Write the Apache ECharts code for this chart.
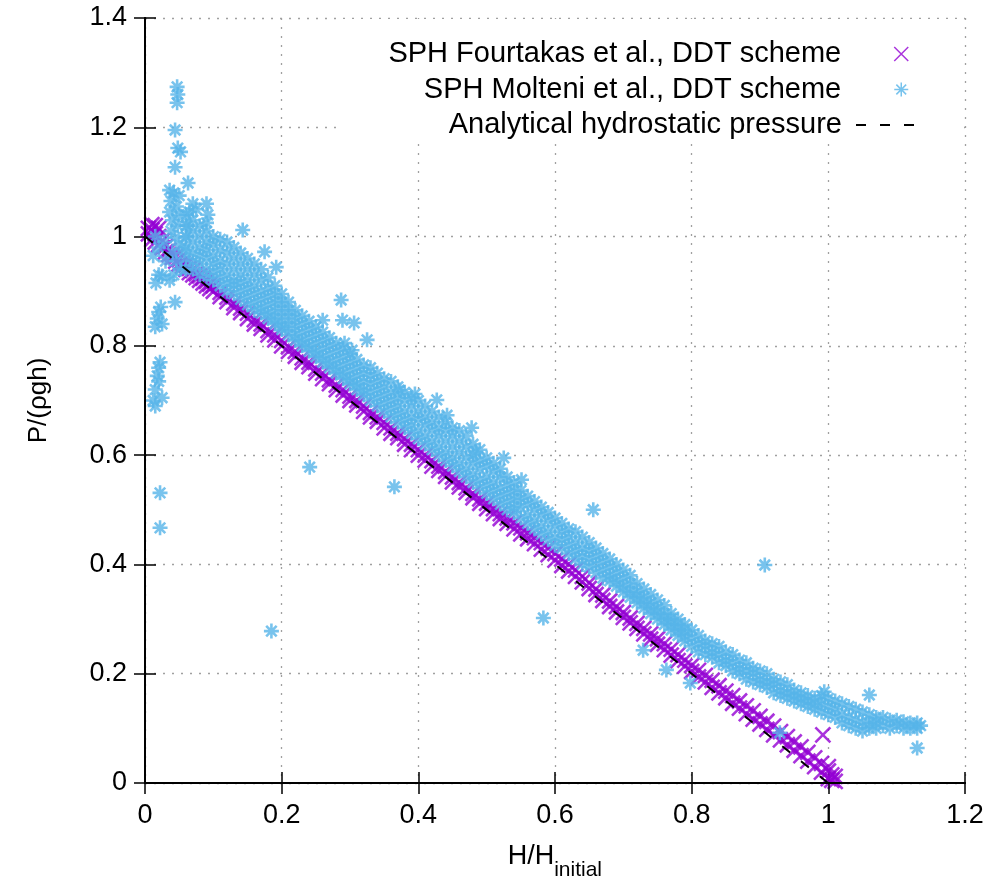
<!DOCTYPE html>
<html><head><meta charset="utf-8">
<script src="https://cdn.jsdelivr.net/npm/echarts@6/dist/echarts.min.js"></script>
<style>html,body{margin:0;padding:0;background:#fff}#c{width:994px;height:891px}</style>
</head><body><div id="c"></div>
<script>
// ---- axes ----
const xRange = [0, 1.2];
const xStep = 0.2;
const yRange = [0, 1.4];
const yStep = 0.2;
const xAxisTitle = ['H/H', 'initial'];
const yAxisTitle = 'P/(ρgh)';
const seriesNames = ['SPH Fourtakas et al., DDT scheme', 'SPH Molteni et al., DDT scheme', 'Analytical hydrostatic pressure'];

// ---- SPH Fourtakas (purple x) : [x, [y values at that x]] ----
const fourtakasCols = [
[0.005,[1.005,1.015]],[0.01,[0.995,1.012,1.022]],[0.015,[0.99,1.005,1.02]],[0.02,[0.985,1.0,1.015]],
[0.025,[0.98,0.992]],[0.03,[0.972,0.982]],[0.035,[0.967,0.975]],[0.04,[0.962,0.968]],[0.045,[0.955,0.963]],
[0.05,[0.95,0.958]],[0.055,[0.946,0.952]],[0.06,[0.94,0.948]],[0.065,[0.934,0.942]],[0.07,[0.93,0.938]],
[0.075,[0.925,0.932]],[0.08,[0.92,0.928]],[0.085,[0.915,0.924]],[0.09,[0.91,0.918]],[0.095,[0.905,0.913]],
[0.10,[0.9,0.91]],[0.11,[0.89,0.898]],[0.12,[0.881,0.889]],[0.13,[0.87,0.878]],[0.14,[0.861,0.869]],
[0.15,[0.85,0.86]],[0.16,[0.84,0.848]],[0.17,[0.832,0.84]],[0.18,[0.82,0.828]],[0.19,[0.811,0.82]],
[0.20,[0.8,0.81]],[0.21,[0.79,0.798]],[0.22,[0.781,0.79]],[0.23,[0.77,0.778]],[0.24,[0.762,0.77]],
[0.25,[0.75,0.758]],[0.26,[0.74,0.75]],[0.27,[0.731,0.738]],[0.28,[0.72,0.728]],[0.29,[0.71,0.72]],
[0.30,[0.7,0.708]],[0.31,[0.692,0.7]],[0.32,[0.68,0.69]],[0.33,[0.67,0.678]],[0.34,[0.662,0.67]],
[0.35,[0.65,0.66]],[0.36,[0.64,0.65]],[0.37,[0.632,0.64]],[0.38,[0.62,0.63]],[0.39,[0.61,0.62]],
[0.40,[0.6,0.61]],[0.41,[0.591,0.6]],[0.42,[0.58,0.59]],[0.43,[0.572,0.58]],[0.44,[0.561,0.57]],
[0.45,[0.551,0.56]],[0.46,[0.542,0.55]],[0.47,[0.532,0.54]],[0.48,[0.522,0.53]],[0.49,[0.512,0.52]],
[0.50,[0.502,0.512]],[0.51,[0.493,0.502]],[0.52,[0.484,0.493]],[0.53,[0.475,0.485]],[0.54,[0.465,0.476]],
[0.55,[0.456,0.467]],[0.56,[0.447,0.458]],[0.57,[0.438,0.449]],[0.58,[0.428,0.44]],[0.59,[0.418,0.43]],
[0.60,[0.408,0.42]],[0.61,[0.398,0.41]],[0.62,[0.388,0.4]],[0.63,[0.378,0.39]],[0.64,[0.368,0.378]],
[0.65,[0.356,0.366]],[0.66,[0.345,0.355]],[0.67,[0.334,0.344]],[0.68,[0.323,0.333]],[0.69,[0.313,0.323]],
[0.70,[0.303,0.312]],[0.71,[0.293,0.302]],[0.72,[0.283,0.292]],[0.73,[0.273,0.283]],[0.74,[0.263,0.273]],
[0.75,[0.254,0.264]],[0.76,[0.244,0.255]],[0.77,[0.234,0.245]],[0.78,[0.224,0.235]],[0.79,[0.214,0.225]],
[0.80,[0.204,0.215]],[0.81,[0.194,0.206]],[0.82,[0.185,0.197]],[0.83,[0.175,0.188]],[0.84,[0.165,0.178]],
[0.85,[0.156,0.168]],[0.86,[0.146,0.16]],[0.87,[0.137,0.15]],[0.88,[0.127,0.141]],[0.89,[0.117,0.132]],
[0.90,[0.108,0.122]],[0.91,[0.098,0.113]],[0.92,[0.088,0.104]],[0.93,[0.079,0.094]],[0.94,[0.07,0.085]],
[0.95,[0.06,0.075]],[0.96,[0.05,0.066]],[0.97,[0.04,0.056]],[0.98,[0.03,0.046]],[0.99,[0.02,0.036]],
[1.0,[0.008,0.022,0.03]],[1.005,[0.005,0.015]],[1.01,[0.003,0.012]],[0.992,[0.088]]
];

// ---- SPH Molteni (blue *) : main band [x, [y values]] ----
const molteniCols = [
[0.06,[1.04,1.02,1.0,0.98,0.96,0.94]],[0.07,[1.03,1.01,0.99,0.97,0.955,0.94]],[0.08,[1.02,1.0,0.98,0.965,0.95,0.93]],
[0.09,[1.01,0.99,0.975,0.96,0.94,0.925]],[0.10,[1.0,0.985,0.965,0.95,0.935,0.92]],[0.11,[0.995,0.975,0.955,0.94,0.925,0.91]],
[0.12,[0.99,0.97,0.95,0.93,0.915,0.9]],[0.13,[0.98,0.96,0.94,0.92,0.91,0.895]],[0.14,[0.97,0.95,0.93,0.915,0.9,0.885]],
[0.15,[0.96,0.94,0.92,0.905,0.89,0.875]],[0.16,[0.95,0.93,0.91,0.895,0.88,0.865]],[0.17,[0.94,0.92,0.9,0.885,0.87,0.86]],
[0.18,[0.925,0.905,0.89,0.875,0.86,0.85]],[0.19,[0.91,0.895,0.88,0.865,0.85,0.84]],[0.20,[0.895,0.88,0.865,0.85,0.835,0.83]],
[0.21,[0.88,0.865,0.85,0.835,0.82]],[0.22,[0.865,0.85,0.835,0.82,0.81]],[0.23,[0.855,0.84,0.825,0.81,0.8]],
[0.24,[0.845,0.83,0.815,0.8,0.79]],[0.25,[0.835,0.82,0.805,0.79,0.78]],[0.26,[0.825,0.81,0.795,0.78,0.77]],
[0.27,[0.815,0.8,0.785,0.77,0.76]],[0.28,[0.805,0.79,0.775,0.76,0.75]],[0.29,[0.795,0.78,0.765,0.75,0.74]],
[0.30,[0.785,0.77,0.755,0.74,0.73]],[0.31,[0.775,0.76,0.745,0.73,0.72]],[0.32,[0.765,0.75,0.735,0.72,0.71]],
[0.33,[0.76,0.745,0.73,0.715,0.7]],[0.34,[0.75,0.735,0.72,0.705,0.69]],[0.35,[0.74,0.725,0.71,0.695,0.68]],
[0.36,[0.735,0.715,0.7,0.685,0.67]],[0.37,[0.725,0.705,0.69,0.675,0.66]],[0.38,[0.715,0.7,0.68,0.665,0.65]],
[0.39,[0.705,0.69,0.67,0.655,0.64]],[0.40,[0.7,0.68,0.665,0.645,0.63]],[0.41,[0.69,0.67,0.655,0.635,0.62]],
[0.42,[0.68,0.66,0.645,0.625,0.61]],[0.43,[0.67,0.65,0.635,0.615,0.6]],[0.44,[0.66,0.645,0.625,0.605,0.59]],
[0.45,[0.65,0.635,0.615,0.595,0.58]],[0.46,[0.645,0.625,0.605,0.585,0.57]],[0.47,[0.635,0.615,0.595,0.575,0.56]],
[0.48,[0.62,0.6,0.585,0.565,0.55]],[0.49,[0.61,0.59,0.575,0.555,0.54]],[0.50,[0.595,0.58,0.56,0.545,0.53]],
[0.51,[0.585,0.57,0.55,0.535,0.52]],[0.52,[0.575,0.56,0.54,0.525,0.51]],[0.53,[0.56,0.545,0.53,0.515,0.5]],
[0.54,[0.55,0.535,0.52,0.505,0.495]],[0.55,[0.535,0.52,0.505,0.485]],[0.56,[0.525,0.51,0.49,0.475]],
[0.57,[0.515,0.5,0.48,0.465]],[0.58,[0.505,0.49,0.47,0.455]],[0.59,[0.495,0.48,0.46,0.445]],
[0.60,[0.485,0.47,0.45,0.435]],[0.61,[0.475,0.46,0.445,0.43]],[0.62,[0.465,0.45,0.435,0.42]],
[0.63,[0.46,0.44,0.425,0.41]],[0.64,[0.45,0.43,0.415,0.4]],[0.65,[0.44,0.425,0.41,0.395]],
[0.66,[0.43,0.415,0.4,0.385]],[0.67,[0.42,0.405,0.39,0.375]],[0.68,[0.41,0.395,0.38,0.37]],
[0.69,[0.4,0.385,0.37,0.36]],[0.70,[0.39,0.375,0.36,0.35]],[0.71,[0.38,0.365,0.35,0.34]],
[0.72,[0.365,0.35,0.34,0.33]],[0.73,[0.355,0.34,0.33,0.32]],[0.74,[0.345,0.33,0.32,0.31]],
[0.75,[0.335,0.32,0.31,0.3]],[0.76,[0.325,0.31,0.3,0.29]],[0.77,[0.31,0.3,0.29,0.28]],
[0.78,[0.3,0.29,0.28,0.27]],[0.79,[0.29,0.28,0.27,0.26]],[0.80,[0.28,0.265,0.25]],
[0.81,[0.27,0.255,0.24]],[0.82,[0.26,0.25,0.235]],[0.83,[0.255,0.24,0.23]],[0.84,[0.25,0.235,0.22]],
[0.85,[0.24,0.225,0.215]],[0.86,[0.235,0.22,0.205]],[0.87,[0.225,0.21,0.2]],[0.88,[0.22,0.205,0.19]],
[0.89,[0.21,0.2,0.185]],[0.90,[0.205,0.19,0.18]],[0.91,[0.2,0.185,0.175]],[0.92,[0.19,0.18,0.165]],
[0.93,[0.185,0.17,0.16]],[0.94,[0.18,0.165,0.155]],[0.95,[0.17,0.16,0.15]],[0.96,[0.165,0.155,0.145]],
[0.97,[0.16,0.15,0.14]],[0.98,[0.155,0.145,0.135]],[0.99,[0.16,0.145,0.13]],[1.0,[0.155,0.14,0.125]],
[1.01,[0.15,0.135,0.12]],[1.02,[0.145,0.125,0.11]],[1.03,[0.14,0.12,0.105]],[1.04,[0.135,0.115,0.1]],
[1.05,[0.13,0.11,0.095]],[1.06,[0.125,0.11,0.1]],[1.07,[0.12,0.11,0.1]],[1.08,[0.12,0.105]],
[1.09,[0.115,0.1]],[1.10,[0.115,0.105]],[1.11,[0.112,0.1]],[1.12,[0.11,0.1]],[1.13,[0.11,0.1]],[1.135,[0.105]]
];

// ---- SPH Molteni scattered points near the wall and outliers ----
const molteniExtra = [
[0.012,0.70],[0.015,0.72],[0.018,0.745],[0.02,0.76],[0.015,0.69],[0.022,0.77],[0.025,0.705],[0.02,0.735],
[0.022,0.531],[0.022,0.467],
[0.015,0.835],[0.018,0.85],[0.02,0.862],[0.023,0.871],[0.025,0.84],
[0.016,0.915],[0.02,0.93],[0.036,0.92],[0.044,0.88],[0.025,0.928],
[0.012,0.965],[0.02,0.98],[0.028,0.99],[0.015,1.0],[0.03,0.955],
[0.047,1.274],[0.048,1.26],[0.047,1.245],[0.044,1.195],[0.048,1.162],[0.052,1.155],[0.044,1.127],[0.063,1.098],
[0.036,1.085],[0.042,1.08],[0.05,1.075],[0.038,1.065],[0.046,1.055],[0.036,1.045],[0.05,1.04],[0.04,1.03],
[0.048,1.02],[0.038,1.01],[0.044,0.998],[0.05,0.985],[0.04,0.97],[0.046,0.955],[0.052,0.94],[0.042,0.93],
[0.058,0.975],[0.06,1.0],[0.062,1.02],[0.065,1.045],[0.07,1.06],[0.075,1.05],
[0.09,1.06],[0.092,1.04],[0.09,1.025],[0.143,1.012],[0.175,0.972],[0.192,0.944],
[0.287,0.884],[0.26,0.847],[0.289,0.847],[0.306,0.842],[0.325,0.811],[0.292,0.805],[0.303,0.792],
[0.372,0.719],[0.395,0.712],[0.427,0.701],[0.442,0.673],[0.478,0.65],[0.484,0.606],[0.525,0.595],
[0.551,0.555],[0.656,0.5],[0.907,0.399],[0.994,0.167],[1.06,0.161],[1.13,0.064],
[0.185,0.278],[0.241,0.578],[0.365,0.542],[0.583,0.302],[0.729,0.243],[0.763,0.207],[0.798,0.183],[0.929,0.092]
];

// ---- analytical hydrostatic pressure ----
const analyticalX = [0, 1];
const analyticalY = [1, 0];

const fourtakasData = fourtakasCols.flatMap(([x, ys]) => ys.map(y => [x, y]));
const molteniData = molteniCols.flatMap(([x, ys]) => ys.map(y => [x, y])).concat(molteniExtra);
const analyticalData = analyticalX.map((x, i) => [x, analyticalY[i]]);

const FONT = '"Liberation Sans", Arial, sans-serif';
const PURPLE = '#9400d3';
const BLUE = '#56b4e9';
const CROSS = 'path://M0,0L10,10M10,0L0,10';
const STAR = 'path://M5,0L5,10M0,5L10,5M1.5,1.5L8.5,8.5M8.5,1.5L1.5,8.5';

const chart = echarts.init(document.getElementById('c'), null, {renderer: 'canvas'});

const frameLine = {show: true, lineStyle: {color: '#000', width: 2}};
const inTick = {show: true, inside: true, length: 11, lineStyle: {color: '#000', width: 1.5}};
const dotted = {show: true, lineStyle: {color: '#a0a0a0', width: 1.3, type: [2, 7]}};

function legendFor(name, top, right, itemWidth, padRight, itemStyle) {
  return {
    data: [name], top: top, right: right, orient: 'vertical', align: 'right',
    itemWidth: itemWidth, itemHeight: 14, selectedMode: false, z: 20,
    itemStyle: itemStyle,
    textStyle: {fontFamily: FONT, fontSize: 29, color: '#000', padding: [0, padRight, 0, 0]}
  };
}

chart.setOption({
  animation: false,
  backgroundColor: '#fff',
  grid: {left: 145, right: 29, top: 18, bottom: 108, containLabel: false},
  graphic: [{type: 'rect', z: 5, silent: true, shape: {x: 338, y: 19, width: 626, height: 124}, style: {fill: '#fff'}}],
  legend: [
    legendFor(seriesNames[0], 34.5, 80, 50, 30, {borderWidth: 1.5}),
    legendFor(seriesNames[1], 70, 80, 50, 30, {borderWidth: 1.5}),
    legendFor(seriesNames[2], 105.5, 61, 71, 9, {color: 'rgba(0,0,0,0)', borderWidth: 0, opacity: 0})
  ],
  xAxis: [{
    type: 'value', min: xRange[0], max: xRange[1], interval: xStep, position: 'bottom',
    axisLine: frameLine, axisTick: inTick, splitLine: dotted,
    axisLabel: {fontFamily: FONT, fontSize: 27, color: '#000', margin: 19},
    name: '{a|' + xAxisTitle[0] + '}{b|' + xAxisTitle[1] + '}{c| }', nameLocation: 'middle', nameGap: 60,
    nameTextStyle: {rich: {
      a: {fontFamily: FONT, fontSize: 27, color: '#000', verticalAlign: 'top', lineHeight: 28},
      b: {fontFamily: FONT, fontSize: 21, color: '#000', verticalAlign: 'bottom', lineHeight: 20},
      c: {fontSize: 1, lineHeight: 38}
    }}
  }, {
    type: 'value', min: xRange[0], max: xRange[1], interval: xStep, position: 'top', z: 10,
    axisLine: frameLine, axisTick: inTick, splitLine: {show: false}, axisLabel: {show: false}
  }],
  yAxis: [{
    type: 'value', min: yRange[0], max: yRange[1], interval: yStep, position: 'left',
    axisLine: frameLine, axisTick: inTick, splitLine: dotted,
    axisLabel: {fontFamily: FONT, fontSize: 27, color: '#000', margin: 18},
    name: yAxisTitle, nameLocation: 'middle', nameGap: 93,
    nameTextStyle: {fontFamily: FONT, fontSize: 26, color: '#000'}
  }, {
    type: 'value', min: yRange[0], max: yRange[1], interval: yStep, position: 'right', z: 10,
    axisLine: frameLine, axisTick: inTick, splitLine: {show: false}, axisLabel: {show: false}
  }],
  series: [{
    name: seriesNames[0], type: 'scatter', data: fourtakasData, symbol: CROSS, symbolSize: 15,
    itemStyle: {color: PURPLE, borderColor: PURPLE, borderWidth: 2.6}, silent: true, z: 2
  }, {
    name: seriesNames[1], type: 'scatter', data: molteniData, symbol: STAR, symbolSize: 15,
    itemStyle: {color: BLUE, borderColor: BLUE, borderWidth: 2.6}, silent: true, z: 3
  }, {
    name: seriesNames[2], type: 'line', data: analyticalData, symbol: 'none', showSymbol: false,
    lineStyle: {color: '#000', width: 2, type: [10, 14]}, itemStyle: {color: '#000'}, silent: true, z: 4
  }]
});
</script></body></html>
